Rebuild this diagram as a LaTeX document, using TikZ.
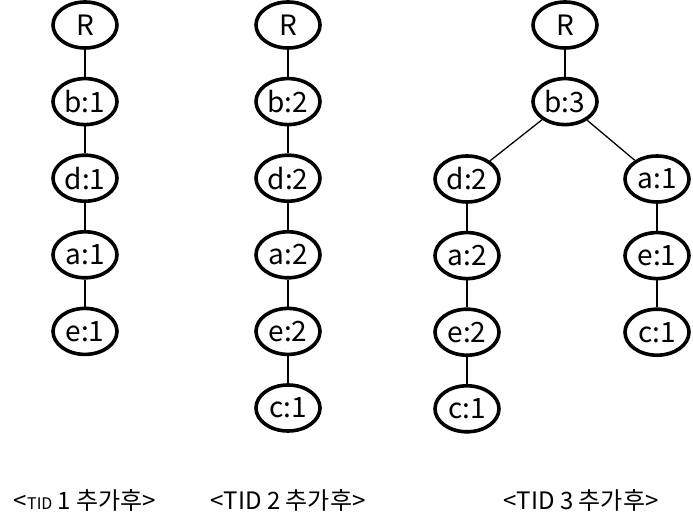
\documentclass[tikz,border=0pt]{standalone}
\usepackage{fontspec}
\setmainfont{Noto Sans CJK KR}
\usepackage{tikz}
\usetikzlibrary{shapes.geometric,positioning}

\begin{document}
\begin{tikzpicture}[
    x=1pt, y=-1pt,
    node distance=27pt,
    item/.style={draw, ellipse, line width=3.6pt, minimum width=64pt, minimum height=46pt, inner sep=0pt, font=\fontsize{28}{28}\selectfont},
    link/.style={line width=1.3pt},
    caption/.style={font=\fontsize{24}{24}\selectfont}
  ]
    \useasboundingbox (0,0) rectangle (693,526);

    % first transaction
    \node[item] (r1) at (85,25) {R};
    \node[item, below=of r1] (b1) {b:1};
    \node[item, below=of b1] (d1) {d:1};
    \node[item, below=of d1] (a1) {a:1};
    \node[item, below=of a1] (e1) {e:1};

    % second transaction
    \node[item] (r2) at (288,25) {R};
    \node[item, below=of r2] (b2) {b:2};
    \node[item, below=of b2] (d2) {d:2};
    \node[item, below=of d2] (a2) {a:2};
    \node[item, below=of a2] (e2) {e:2};
    \node[item, below=of e2] (c2) {c:1};

    % third transaction
    \node[item] (r3) at (565,25) {R};
    \node[item, below=of r3] (b3) {b:3};
    \node[item] (d3) at (467,179) {d:2};
    \node[item, below=of d3] (a3) {a:2};
    \node[item, below=of a3] (e3) {e:2};
    \node[item, below=of e3] (c3) {c:1};
    \node[item] (a3r) at (657,179) {a:1};
    \node[item, below=of a3r] (e3r) {e:1};
    \node[item, below=of e3r] (c3r) {c:1};

    \draw[link] (r1) -- (b1);
    \draw[link] (b1) -- (d1);
    \draw[link] (d1) -- (a1);
    \draw[link] (a1) -- (e1);

    \draw[link] (r2) -- (b2);
    \draw[link] (b2) -- (d2);
    \draw[link] (d2) -- (a2);
    \draw[link] (a2) -- (e2);
    \draw[link] (e2) -- (c2);

    \draw[link] (r3) -- (b3);
    \draw[link] (b3) -- (d3);
    \draw[link] (d3) -- (a3);
    \draw[link] (a3) -- (e3);
    \draw[link] (e3) -- (c3);
    \draw[link] (b3) -- (a3r);
    \draw[link] (a3r) -- (e3r);
    \draw[link] (e3r) -- (c3r);

    \node[caption] (t1) at (85,500) {<{\fontsize{16}{16}\selectfont TID} 1 추가후>};
    \node[caption] (t2) at (288,500) {<TID 2 추가후>};
    \node[caption] (t3) at (581,500) {<TID 3 추가후>};
  \end{tikzpicture}
\end{document}
